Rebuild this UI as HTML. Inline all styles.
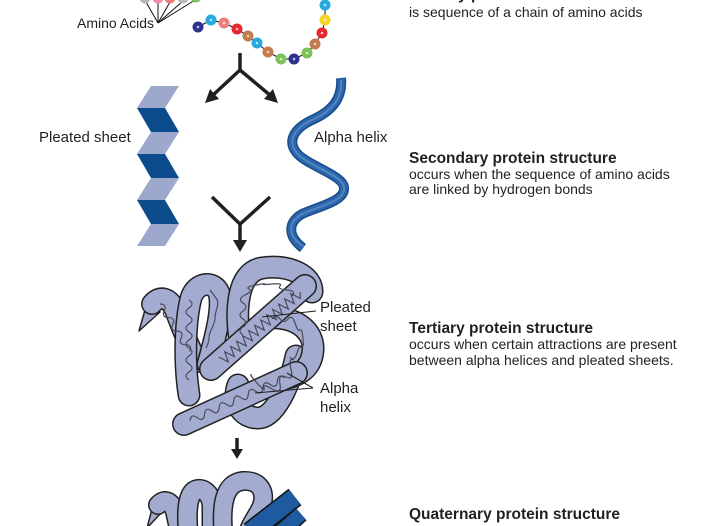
<!DOCTYPE html>
<html>
<head>
<meta charset="utf-8">
<style>
html,body{margin:0;padding:0;background:#fff;}
svg{display:block;}
text{font-family:"Liberation Sans",Arial,sans-serif;fill:#231f20;}
.t{font-weight:bold;font-size:15.5px;}
.b{font-size:14px;}
.l{font-size:15px;}
</style>
</head>
<body>
<svg width="720" height="526" viewBox="0 0 720 526" xmlns="http://www.w3.org/2000/svg">
<rect width="720" height="526" fill="#fff"/>

<!-- ===== Amino acid chain ===== -->
<g stroke="#111" stroke-width="1" fill="none">
  <line x1="158" y1="23" x2="146" y2="2"/>
  <line x1="158" y1="23" x2="158" y2="2"/>
  <line x1="158" y1="23" x2="170" y2="2"/>
  <line x1="158" y1="23" x2="183" y2="1"/>
  <line x1="158" y1="23" x2="195" y2="0"/>
  <polyline points="198,27 211,20 224,23 237,29 248,36 257,43 268,52 281,59 294,59 307,53 315,44 322,33 325,20 325,5 326,-10"/>
</g>
<g>
  <circle cx="145" cy="-2" r="5.5" fill="#b9b9b9"/>
  <circle cx="158" cy="-2" r="5.5" fill="#ef8fa3"/>
  <circle cx="170" cy="-2" r="5.5" fill="#ee7f80"/>
  <circle cx="183" cy="-2" r="5.5" fill="#b9b9b9"/>
  <circle cx="196" cy="-3" r="5.5" fill="#7cc259"/>

  <circle cx="198" cy="27" r="5.5" fill="#2e3192"/>
  <circle cx="211" cy="20" r="5.5" fill="#27aae1"/>
  <circle cx="224" cy="23" r="5.5" fill="#ee7f80"/>
  <circle cx="237" cy="29" r="5.5" fill="#e52730"/>
  <circle cx="248" cy="36" r="5.5" fill="#c47a4a"/>
  <circle cx="257" cy="43" r="5.5" fill="#27aae1"/>
  <circle cx="268" cy="52" r="5.5" fill="#c47a4a"/>
  <circle cx="281" cy="59" r="5.5" fill="#7cc259"/>
  <circle cx="294" cy="59" r="5.5" fill="#2e3192"/>
  <circle cx="307" cy="53" r="5.5" fill="#7cc259"/>
  <circle cx="315" cy="44" r="5.5" fill="#c47a4a"/>
  <circle cx="322" cy="33" r="5.5" fill="#e52730"/>
  <circle cx="325" cy="20" r="5.5" fill="#f5d327"/>
  <circle cx="325" cy="5" r="5.5" fill="#27aae1"/>
</g>
<g fill="#fff" opacity="0.7">
  <circle cx="198" cy="27" r="1.3"/><circle cx="211" cy="20" r="1.3"/><circle cx="224" cy="23" r="1.3"/>
  <circle cx="237" cy="29" r="1.3"/><circle cx="248" cy="36" r="1.3"/><circle cx="257" cy="43" r="1.3"/>
  <circle cx="268" cy="52" r="1.3"/><circle cx="281" cy="59" r="1.3"/><circle cx="294" cy="59" r="1.3"/>
  <circle cx="307" cy="53" r="1.3"/><circle cx="315" cy="44" r="1.3"/><circle cx="322" cy="33" r="1.3"/>
  <circle cx="325" cy="20" r="1.3"/><circle cx="325" cy="5" r="1.3"/>
</g>
<text class="b" x="77" y="28" style="font-size:14px">Amino Acids</text>

<!-- ===== Top fork arrow ===== -->
<g stroke="#231f20" stroke-width="3.5" fill="none" stroke-linecap="butt">
  <line x1="240" y1="53" x2="240" y2="71"/>
  <line x1="240" y1="70" x2="212" y2="96"/>
  <line x1="240" y1="70" x2="271" y2="96"/>
</g>
<g fill="#231f20">
  <polygon points="205,103 219,99 210,89"/>
  <polygon points="278,103 264,99 273,89"/>
</g>

<!-- ===== Pleated sheet ===== -->
<g>
  <polygon points="151,86 179,86 165,108 137,108" fill="#9da8cd"/>
  <polygon points="137,108 165,108 179,132 151,132" fill="#0d4c8c"/>
  <polygon points="151,132 179,132 165,154 137,154" fill="#9da8cd"/>
  <polygon points="137,154 165,154 179,178 151,178" fill="#0d4c8c"/>
  <polygon points="151,178 179,178 165,200 137,200" fill="#9da8cd"/>
  <polygon points="137,200 165,200 179,224 151,224" fill="#0d4c8c"/>
  <polygon points="151,224 179,224 165,246 137,246" fill="#9da8cd"/>
</g>
<text class="l" x="39" y="142">Pleated sheet</text>

<!-- ===== Alpha helix ===== -->
<g fill="none" stroke-linecap="butt">
  <path d="M341,78 C 343,100 330,112 312,120 C 295,128 287,140 296,152 C 305,165 344,175 344,188 C 345,201 320,206 302,214 C 288,222 287,236 303,248" stroke="#174f8d" stroke-width="10"/>
  <path d="M341,78 C 343,100 330,112 312,120 C 295,128 287,140 296,152 C 305,165 344,175 344,188 C 345,201 320,206 302,214 C 288,222 287,236 303,248" stroke="#2d66ab" stroke-width="7"/>
  <path d="M341,80 C 343,100 330,112 312,120 C 295,128 287,140 296,152 C 305,165 344,175 344,188 C 345,201 320,206 302,214 C 288,222 287,236 303,246" stroke="#6b98d0" stroke-width="2" opacity="0.6"/>
</g>
<text class="l" x="314" y="142">Alpha helix</text>

<!-- ===== Y arrow ===== -->
<g stroke="#231f20" stroke-width="3.5" fill="none">
  <line x1="212" y1="197" x2="241" y2="225"/>
  <line x1="270" y1="197" x2="239" y2="225"/>
  <line x1="240" y1="224" x2="240" y2="242"/>
</g>
<polygon points="233,240 247,240 240,252" fill="#231f20"/>

<!-- ===== Tertiary structure ===== -->
<g fill="none" stroke-linecap="round" stroke-linejoin="round">
  <!-- coil -->
  <path d="M296,356 C 290,385 275,418 258,418 C 240,418 232,400 238,385" stroke="#222" stroke-width="23"/>
  <path d="M296,356 C 290,385 275,418 258,418 C 240,418 232,400 238,385" stroke="#a3acd0" stroke-width="20"/>
  <!-- head -->
  <polygon points="139,331 147,303 160,312" fill="#a3acd0" stroke="#222" stroke-width="1.5"/>
  <path d="M152,304 C 160,294 170,298 175,310 C 181,326 188,344 197,362" stroke="#222" stroke-width="22"/>
  <path d="M152,304 C 160,294 170,298 175,310 C 181,326 188,344 197,362" stroke="#a3acd0" stroke-width="19"/>
  <!-- left loop -->
  <path d="M189,395 C 184,362 185,322 191,298 C 196,282 214,280 219,293 C 223,308 216,335 208,364" stroke="#222" stroke-width="23"/>
  <path d="M189,395 C 184,362 185,322 191,298 C 196,282 214,280 219,293 C 223,308 216,335 208,364" stroke="#a3acd0" stroke-width="20"/>
  <!-- right loop -->
  <path d="M268,318 C 295,316 314,330 313,350 C 312,366 302,374 288,378" stroke="#222" stroke-width="23"/>
  <path d="M268,318 C 295,316 314,330 313,350 C 312,366 302,374 288,378" stroke="#a3acd0" stroke-width="20"/>
  <!-- big loop -->
  <path d="M240,342 C 235,310 237,272 262,268 C 290,264 313,276 312,292" stroke="#222" stroke-width="23"/>
  <path d="M240,342 C 235,310 237,272 262,268 C 290,264 313,276 312,292" stroke="#a3acd0" stroke-width="20"/>
  <!-- diagonal (pleated) -->
  <path d="M305,286 L211,369" stroke="#222" stroke-width="24"/>
  <path d="M305,286 L211,369" stroke="#a3acd0" stroke-width="21"/>
  <!-- long bottom -->
  <path d="M184,424 L296,373" stroke="#222" stroke-width="24"/>
  <path d="M184,424 L296,373" stroke="#a3acd0" stroke-width="21"/>
</g>
<!-- inner squiggles -->
<g fill="none" stroke="#4a4a58" stroke-width="1.2">
  <g transform="translate(300,292) rotate(138.6)">
    <path d="M0,0 l4,-5 l4,10 l4,-10 l4,10 l4,-10 l4,10 l4,-10 l4,10 l4,-10 l4,10 l4,-10 l4,10 l4,-10 l4,10 l4,-10 l4,10 l4,-10 l4,10 l4,-10 l4,10 l4,-10 l4,10 l4,-10 l4,10 l4,-10 l4,10"/>
  </g>
  <g transform="translate(190,421) rotate(-24.5)">
    <path d="M0,0 q4,-7 8,0 t8,0 t8,0 t8,0 t8,0 t8,0 t8,0 t8,0 t8,0 t8,0 t8,0 t8,0 t8,0"/>
  </g>
  <g transform="translate(160,304) rotate(58)">
    <path d="M0,0 q4,-6 8,0 t8,0 t8,0 t8,0 t8,0 t8,0 t8,0"/>
  </g>
  <g transform="translate(189,300) rotate(90)">
    <path d="M0,0 q4,-6 8,0 t8,0 t8,0 t8,0 t8,0 t8,0 t8,0 t8,0 t8,0 t8,0"/>
  </g>
  <path d="M243,335 q-6,-4 0,-8 t0,-8 t0,-8 t0,-8 t2,-8 t4,-6 t7,-4 t8,-1 t8,0 t8,2 t7,4 t5,6"/>
  <path d="M272,319 q4,-5 8,0 t8,0 t7,4 t5,7 t3,8 t-1,8 t-5,7 t-7,4"/>
  <path d="M294,360 q-6,-3 -3,9 t-5,8 t-6,7 t-8,5 t-8,-1 t-7,-5 t-5,-8"/>
  <path d="M210,290 q3,4 6,8 t1,10 t-2,10 t-3,10 t-3,10 t-3,10"/>
</g>
<!-- leader lines -->
<g stroke="#231f20" stroke-width="1.1" fill="none">
  <line x1="316" y1="311" x2="262" y2="317"/>
  <line x1="313" y1="388" x2="287" y2="373"/>
  <line x1="313" y1="388" x2="255" y2="393"/>
</g>
<text class="l" x="320" y="312">Pleated</text>
<text class="l" x="320" y="331">sheet</text>
<text class="l" x="320" y="393">Alpha</text>
<text class="l" x="320" y="412">helix</text>

<!-- ===== Down arrow ===== -->
<line x1="237" y1="438" x2="237" y2="451" stroke="#231f20" stroke-width="3.5"/>
<polygon points="231,449 243,449 237,459" fill="#231f20"/>

<!-- ===== Quaternary structure ===== -->
<g fill="none" stroke-linecap="round" stroke-linejoin="round">
  <polygon points="147,528 152,509 161,513" fill="#a3acd0" stroke="#222" stroke-width="1.5"/>
  <path d="M158,505 C 165,497 172,502 175,512 L 181,540" stroke="#222" stroke-width="20"/>
  <path d="M158,505 C 165,497 172,502 175,512 L 181,540" stroke="#a3acd0" stroke-width="17"/>
  <path d="M189,540 C 186,515 187,497 194,491 C 202,486 211,493 212,506 L 212,540" stroke="#222" stroke-width="21"/>
  <path d="M189,540 C 186,515 187,497 194,491 C 202,486 211,493 212,506 L 212,540" stroke="#a3acd0" stroke-width="18"/>
  <path d="M224,540 C 220,505 224,483 243,481 C 260,480 266,492 262,505 C 258,516 250,522 246,540" stroke="#222" stroke-width="20"/>
  <path d="M224,540 C 220,505 224,483 243,481 C 260,480 266,492 262,505 C 258,516 250,522 246,540" stroke="#a3acd0" stroke-width="17"/>
  <path d="M250,532 L295,497" stroke="#111" stroke-width="21" stroke-linecap="butt"/>
  <path d="M250,532 L295,497" stroke="#1d5a9f" stroke-width="18" stroke-linecap="butt"/>
  <path d="M276,536 L301,514" stroke="#111" stroke-width="17" stroke-linecap="butt"/>
  <path d="M276,536 L301,514" stroke="#1d5a9f" stroke-width="14" stroke-linecap="butt"/>
</g>

<!-- ===== Right column text ===== -->
<text class="t" x="409" y="-1">Primary protein structure</text>
<text class="b" x="409" y="17">is sequence of a chain of amino acids</text>

<text class="t" x="409" y="163">Secondary protein structure</text>
<text class="b" x="409" y="179">occurs when the sequence of amino acids</text>
<text class="b" x="409" y="194">are linked by hydrogen bonds</text>

<text class="t" x="409" y="333">Tertiary protein structure</text>
<text class="b" x="409" y="349">occurs when certain attractions are present</text>
<text class="b" x="409" y="365">between alpha helices and pleated sheets.</text>

<text class="t" x="409" y="519">Quaternary protein structure</text>
</svg>
</body>
</html>
